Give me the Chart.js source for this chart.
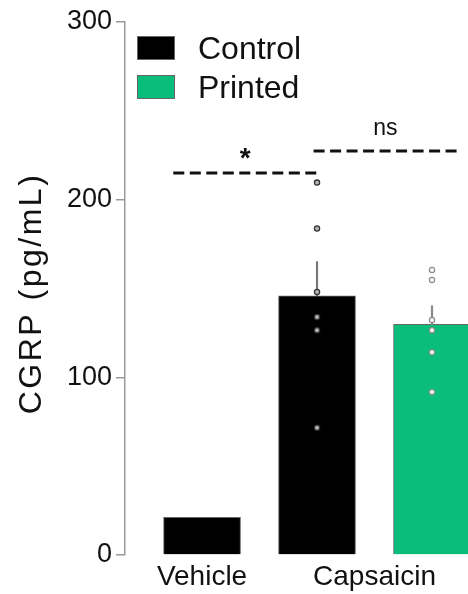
<!DOCTYPE html>
<html>
<head>
<meta charset="utf-8">
<script src="https://cdn.jsdelivr.net/npm/chart.js@4.4.1/dist/chart.umd.min.js"></script>
<style>
  body { margin: 0; background: #fff; }
  #wrap { width: 468px; height: 594px; position: relative; }
</style>
</head>
<body>
<div id="wrap"><canvas id="cgrpChart"></canvas></div>
<script>
// data
const categories = ['Vehicle', 'Capsaicin'];
const groups = ['Control', 'Printed'];
const controlMean = [21.2, 145.9];
const printedMean = [null, 129.8];
const controlSem = [null, 19.2];
const printedSem = [null, 10.5];
const controlPoints = [[], [209.6, 183.8, 148.0, 134.0, 126.5, 71.6]];
const printedPoints = [[], [160.4, 154.8, 132.3, 126.5, 114.1, 91.7]];
const yTicks = [0, 100, 200, 300];
const yTitle = 'CGRP (pg/mL)';
// significance bars: x span in bar-slot units, y level, label
const sigSpans = [[0.75, 2.0], [1.97, 3.22]];
const sigLevels = [215, 227.4];
const sigLabels = ['*', 'ns'];

const colors = { Control: '#000000', Printed: '#0bbd7a' };
const font = "'Liberation Sans', Arial, sans-serif";

// each non-empty bar gets its own slot (1, 2, 3 ...), categories sit at the middle of their slots
const slots = [];
const catPos = [];
let slot = 1;
categories.forEach((c, i) => {
  const mine = [];
  [controlMean, printedMean].forEach((arr, g) => {
    if (arr[i] != null) {
      slots.push({ cat: i, group: g, x: slot });
      mine.push(slot);
      slot++;
    }
  });
  catPos.push(mine.reduce((a, b) => a + b, 0) / mine.length);
});

const means = [controlMean, printedMean];
const sems = [controlSem, printedSem];
const pts = [controlPoints, printedPoints];

function barData(g) {
  return slots.filter(s => s.group === g).map(s => ({ x: s.x, y: means[g][s.cat] }));
}
function errData(g) {
  return slots.filter(s => s.group === g && sems[g][s.cat] != null)
    .map(s => ({ x: s.x, y: [means[g][s.cat], means[g][s.cat] + sems[g][s.cat]] }));
}
function pointData(g) {
  const out = [];
  slots.filter(s => s.group === g).forEach(s => {
    pts[g][s.cat].forEach(v => out.push({ x: s.x, y: v }));
  });
  return out;
}

const datasets = [
  {
    type: 'scatter', label: 'pts-control', data: pointData(0), order: 0,
    pointRadius: 2.6, pointBorderWidth: 1.3, borderColor: '#333', backgroundColor: '#b5b5b5'
  },
  {
    type: 'scatter', label: 'pts-printed', data: pointData(1), order: 0,
    pointRadius: 2.6, pointBorderWidth: 1.2, borderColor: '#8a8a8a', backgroundColor: '#ffffff'
  },
  {
    type: 'bar', label: 'err-control', data: errData(0), order: 1, grouped: false,
    barThickness: 1.5, backgroundColor: '#777'
  },
  {
    type: 'bar', label: 'err-printed', data: errData(1), order: 1, grouped: false,
    barThickness: 1.5, backgroundColor: '#888'
  }
];
groups.forEach((name, g) => {
  datasets.push({
    type: 'bar', label: name, data: barData(g), order: 2, grouped: false,
    barThickness: 77, backgroundColor: colors[name], borderColor: '#666', borderWidth: 1
  });
});
sigSpans.forEach((span, i) => {
  datasets.push({
    type: 'line', label: 'sig' + i, order: 0,
    data: [{ x: span[0], y: sigLevels[i] }, { x: span[1], y: sigLevels[i] }],
    borderColor: '#111', borderWidth: 3, borderDash: [11, 5.5], pointRadius: 0, fill: false
  });
});

const overlay = {
  id: 'overlay',
  afterDatasetsDraw(chart) {
    const { ctx, scales: { x, y } } = chart;
    ctx.save();
    // significance labels
    sigLabels.forEach((txt, i) => {
      const cx = x.getPixelForValue((sigSpans[i][0] + sigSpans[i][1]) / 2);
      const ly = y.getPixelForValue(sigLevels[i]);
      ctx.fillStyle = '#111';
      ctx.textAlign = 'center';
      ctx.textBaseline = 'alphabetic';
      if (txt === '*') {
        ctx.font = 'bold 28px ' + font;
        ctx.fillText(txt, cx, ly - 6);
      } else {
        ctx.font = '23px ' + font;
        ctx.fillText(txt, cx, ly - 16);
      }
    });
    // legend
    const left = chart.chartArea.left + 12;
    groups.forEach((name, g) => {
      const top = 36 + g * 39;
      ctx.fillStyle = colors[name];
      ctx.fillRect(left, top, 38, 24);
      ctx.strokeStyle = '#666';
      ctx.lineWidth = 1;
      ctx.strokeRect(left + 0.5, top + 0.5, 37, 23);
      ctx.fillStyle = '#111';
      ctx.font = '32px ' + font;
      ctx.textAlign = 'left';
      ctx.textBaseline = 'alphabetic';
      ctx.fillText(name, left + 61, top + 23);
    });
    // y axis title, a little letter-spaced like the original
    const midY = (chart.chartArea.top + chart.chartArea.bottom) / 2 + 5;
    ctx.translate(32, midY);
    ctx.rotate(-Math.PI / 2);
    ctx.font = '32px ' + font;
    if ('letterSpacing' in ctx) ctx.letterSpacing = '2.5px';
    ctx.textAlign = 'center';
    ctx.textBaseline = 'middle';
    ctx.fillStyle = '#111';
    ctx.fillText(yTitle, 0, 0);
    ctx.restore();
  }
};

new Chart(document.getElementById('cgrpChart'), {
  type: 'bar',
  data: { datasets },
  plugins: [overlay],
  options: {
    responsive: true,
    maintainAspectRatio: false,
    animation: false,
    layout: { autoPadding: false, padding: { top: 22, left: 0, right: 0, bottom: 0 } },
    plugins: { legend: { display: false }, tooltip: { enabled: false } },
    scales: {
      x: {
        type: 'linear',
        min: 0.33,
        max: 3.313,
        offset: false,
        grid: { display: false, drawTicks: false, offset: false },
        border: { display: false },
        afterBuildTicks: (scale) => {
          scale.ticks = catPos.map(v => ({ value: v }));
        },
        afterFit: (scale) => { scale.height = 39; },
        ticks: {
          autoSkip: false,
          maxRotation: 0,
          padding: 5,
          color: '#111',
          font: { family: font, size: 28 },
          callback: (value, index) => categories[index]
        }
      },
      y: {
        min: 0,
        max: 300,
        afterBuildTicks: (scale) => {
          scale.ticks = yTicks.map(v => ({ value: v }));
        },
        afterFit: (scale) => { scale.width = 125; },
        grid: { drawOnChartArea: false, drawTicks: true, tickLength: 9, color: '#9a9a9a', lineWidth: 1.5 },
        border: { display: true, color: '#9a9a9a', width: 1.5 },
        ticks: {
          padding: 4,
          color: '#111',
          font: { family: font, size: 27 }
        },
        title: { display: false }
      }
    }
  }
});
</script>
</body>
</html>
